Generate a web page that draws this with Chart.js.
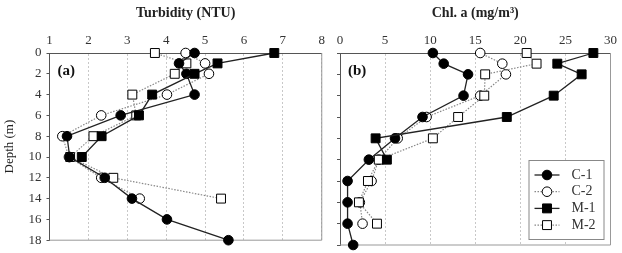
<!DOCTYPE html>
<html lang="en">
<head>
<meta charset="UTF-8" />
<title>Turbidity and Chl. a depth profiles</title>
<script src="https://cdn.jsdelivr.net/npm/chart.js"></script>
<style>
  html, body { margin: 0; padding: 0; background: #fff; }
  #wrap { position: relative; width: 622px; height: 253px; }
  .panel { position: absolute; top: 0; height: 253px; }
</style>
</head>
<body>
<div id="wrap">
  <div class="panel" style="left:0;width:330px"><canvas id="turbChart"></canvas></div>
  <div class="panel" style="left:330px;width:292px"><canvas id="chlChart"></canvas></div>
</div>

<script>
// series names and depths (m)
const seriesNames = ["C-1", "C-2", "M-1", "M-2"];
const depthC1 = [0, 1, 2, 4, 6, 8, 10, 12, 14, 16, 18];
const depthC2Turb = [0, 1, 2, 4, 6, 8, 10, 12, 14];
const depthC2Chl = [0, 1, 2, 4, 6, 8, 10, 12, 14, 16];
const depthM1 = [0, 1, 2, 4, 6, 8, 10];
const depthM2Turb = [0, 1, 2, 4, 6, 8, 10, 12, 14];
const depthM2Chl = [0, 1, 2, 4, 6, 8, 10, 12, 14, 16];

// turbidity (NTU)
const turbC1 = [4.73, 4.33, 4.52, 4.73, 2.83, 1.45, 1.52, 2.42, 3.12, 4.02, 5.6];
const turbC2 = [4.5, 5.0, 5.1, 4.02, 2.33, 1.33, 1.5, 2.33, 3.32];
const turbM1 = [6.78, 5.32, 4.73, 3.64, 3.3, 2.34, 1.83];
const turbM2 = [3.71, 4.52, 4.22, 3.13, 3.23, 2.13, 1.53, 2.64, 5.41];

// Chl. a (mg/m3)
const chlC1 = [10.3, 11.5, 14.2, 13.7, 9.15, 6.1, 3.2, 0.84, 0.84, 0.84, 1.46];
const chlC2 = [15.55, 18.0, 18.4, 15.55, 9.6, 6.4, 4.3, 3.5, 2.2, 2.5];
const chlM1 = [28.1, 24.1, 26.8, 23.7, 18.5, 3.95, 5.2];
const chlM2 = [20.7, 21.8, 16.1, 16.0, 13.1, 10.3, 4.3, 3.1, 2.1, 4.1];

const depthTicks = [0, 2, 4, 6, 8, 10, 12, 14, 16, 18];

const FONT = "'Liberation Serif', 'DejaVu Serif', serif";

function pts(xs, depths) {
  return xs.map((v, i) => ({ x: v, y: depths[i] }));
}

const styles = [
  { borderColor: "#222", borderWidth: 1.3, borderDash: [], pointStyle: "circle", pointRadius: 4.8, pointBackgroundColor: "#000", order: 1 },
  { borderColor: "#888", borderWidth: 1.2, borderDash: [1.5, 1.5], pointStyle: "circle", pointRadius: 4.8, pointBackgroundColor: "#fff", order: 3 },
  { borderColor: "#222", borderWidth: 1.3, borderDash: [], pointStyle: "rect", pointRadius: 6.3, pointBackgroundColor: "#000", order: 0 },
  { borderColor: "#888", borderWidth: 1.2, borderDash: [1.5, 1.5], pointStyle: "rect", pointRadius: 6.3, pointBackgroundColor: "#fff", order: 2 }
];

function makeDatasets(series) {
  return series.map((d, i) => Object.assign({
    label: seriesNames[i],
    data: d,
    showLine: true,
    clip: false,
    pointBorderColor: "#000",
    pointBorderWidth: 1,
    pointHoverRadius: styles[i].pointRadius
  }, styles[i]));
}

// frame, panel letter, optional legend
const decor = {
  id: "decor",
  beforeDatasetsDraw(chart, args, opts) {
    const a = chart.chartArea;
    const ctx = chart.ctx;
    ctx.save();
    ctx.strokeStyle = "#999";
    ctx.lineWidth = 1;
    ctx.beginPath();
    ctx.moveTo(a.right, a.top);
    ctx.lineTo(a.right, a.bottom);
    ctx.lineTo(a.left, a.bottom);
    ctx.stroke();
    ctx.fillStyle = "#111";
    ctx.font = "bold 15px " + FONT;
    ctx.textBaseline = "middle";
    ctx.fillText(opts.letter, a.left + 8, a.top + 18);
    ctx.restore();
  },
  afterDraw(chart, args, opts) {
    if (!opts.legend) return;
    const ctx = chart.ctx;
    const a = chart.chartArea;
    const bx = a.right - 82, by = a.bottom - 85, bw = 75, bh = 79;
    ctx.save();
    ctx.fillStyle = "#fff";
    ctx.fillRect(bx, by, bw, bh);
    ctx.strokeStyle = "#888";
    ctx.lineWidth = 1;
    ctx.strokeRect(bx + 0.5, by + 0.5, bw, bh);
    chart.data.datasets.forEach((ds, i) => {
      const y = by + 15 + i * 16.7;
      const x0 = bx + 6, x1 = bx + 31, xm = (x0 + x1) / 2;
      ctx.strokeStyle = ds.borderColor;
      ctx.lineWidth = ds.borderWidth;
      ctx.setLineDash(ds.borderDash);
      ctx.beginPath();
      ctx.moveTo(x0, y);
      ctx.lineTo(x1, y);
      ctx.stroke();
      ctx.setLineDash([]);
      ctx.fillStyle = ds.pointBackgroundColor;
      ctx.strokeStyle = "#000";
      ctx.lineWidth = 1;
      ctx.beginPath();
      if (ds.pointStyle === "rect") {
        const s = ds.pointRadius * Math.SQRT1_2;
        ctx.rect(xm - s, y - s, 2 * s, 2 * s);
      } else {
        ctx.arc(xm, y, ds.pointRadius, 0, Math.PI * 2);
      }
      ctx.fill();
      ctx.stroke();
      ctx.fillStyle = "#333";
      ctx.font = "14px " + FONT;
      ctx.textBaseline = "middle";
      ctx.fillText(ds.label, bx + 43, y);
    });
    ctx.restore();
  }
};

function makeChart(id, series, opt) {
  return new Chart(document.getElementById(id), {
    type: "scatter",
    data: { datasets: makeDatasets(series) },
    options: {
      responsive: true,
      maintainAspectRatio: false,
      animation: false,
      layout: { padding: { top: 0, left: 0, right: opt.padRight, bottom: 8 } },
      plugins: {
        legend: { display: false },
        tooltip: { enabled: false },
        decor: { letter: opt.letter, legend: opt.legend }
      },
      scales: {
        x: {
          type: "linear",
          position: "top",
          min: opt.xMin,
          max: opt.xMax,
          ticks: { stepSize: opt.step, color: "#333", font: { family: FONT, size: 13 }, padding: 5 },
          grid: { color: "#c8c8c8", lineWidth: 1, drawTicks: false },
          border: { color: "#555", dash: [2, 2] },
          title: { display: true, text: opt.title, color: "#222", font: { family: FONT, size: 14, weight: "bold" }, padding: { top: 5, bottom: 0 } },
          afterFit: s => { s.height = 53; }
        },
        y: {
          type: "linear",
          reverse: true,
          min: 0,
          max: 18,
          afterBuildTicks: s => { s.ticks = depthTicks.map(v => ({ value: v })); },
          ticks: { display: opt.yLabels, color: "#333", font: { family: FONT, size: 13 }, padding: 5 },
          grid: { drawOnChartArea: false, drawTicks: true, tickLength: 3, tickColor: "#555" },
          border: { color: "#555" },
          title: { display: opt.yLabels, text: "Depth (m)", color: "#222", font: { family: FONT, size: 13 }, padding: { top: 2, bottom: 0 } },
          afterFit: s => { s.width = opt.yWidth; }
        }
      }
    },
    plugins: [decor]
  });
}

makeChart("turbChart",
  [pts(turbC1, depthC1), pts(turbC2, depthC2Turb), pts(turbM1, depthM1), pts(turbM2, depthM2Turb)],
  { xMin: 1, xMax: 8, step: 1, title: "Turbidity (NTU)", letter: "(a)", legend: false, yLabels: true, yWidth: 49.5, padRight: 6 });

makeChart("chlChart",
  [pts(chlC1, depthC1), pts(chlC2, depthC2Chl), pts(chlM1, depthM1), pts(chlM2, depthM2Chl)],
  { xMin: 0, xMax: 30, step: 5, title: "Chl. a (mg/m³)", letter: "(b)", legend: true, yLabels: false, yWidth: 10, padRight: 9 });
</script>
</body>
</html>
